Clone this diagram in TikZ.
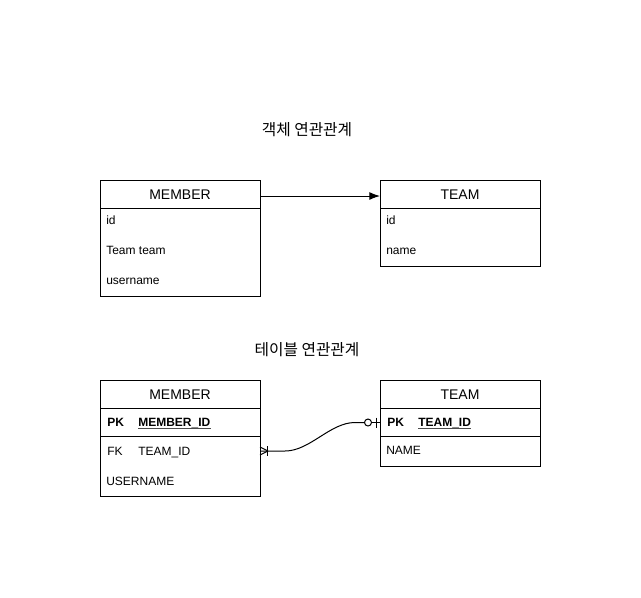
\documentclass[tikz,border=0pt]{standalone}
\usepackage{fontspec}
\setmainfont{Liberation Sans}
\newfontfamily\krfont{Noto Sans CJK KR}
\usetikzlibrary{arrows.meta,calc}
\begin{document}
\begin{tikzpicture}[x=0.75pt,y=-0.75pt,
  tbl/.style={draw=black,line width=0.75pt,minimum width=120pt,inner sep=0pt,outer sep=0pt},
  hdr/.style={font=\fontsize{10.5pt}{12pt}\selectfont,inner sep=0pt,text height=7.6pt,text depth=0pt},
  fld/.style={font=\fontsize{9pt}{11pt}\selectfont,anchor=west,inner sep=0pt,text height=6.5pt,text depth=0pt},
  bfld/.style={fld,font=\bfseries\fontsize{9pt}{11pt}\selectfont},
  rowbox/.style={minimum width=120pt,minimum height=21pt,inner sep=0pt,outer sep=0pt},
  ttl/.style={font=\krfont\fontsize{11.8pt}{13pt}\selectfont,inner sep=0pt},
  ln/.style={line width=0.75pt,black}]
\useasboundingbox (0,0) rectangle (641,597);
% titles
\node[ttl] (t1) at (307,130) {객체 연관관계};
\node[ttl] (t2) at (307,350) {테이블 연관관계};
% top MEMBER
\node[tbl,minimum height=87pt] (m1) at (180,238) {};
\node[rowbox] (m1h) at (180,194) {};
\draw[ln] (m1.west |- 0,208) -- (m1.east |- 0,208);
\node[hdr] (m1ht) at (180,194) {MEMBER};
\node[fld] (m1a) at (106,220) {id};
\node[fld] (m1b) at (106,250) {Team team};
\node[fld] (m1c) at (106,280) {username};
% top TEAM
\node[tbl,minimum height=64.5pt] (t1b) at (460,223) {};
\node[rowbox] (t1h) at (460,194) {};
\draw[ln] (t1b.west |- 0,208) -- (t1b.east |- 0,208);
\node[hdr] (t1ht) at (460,194) {TEAM};
\node[fld] (t1a) at (386,220) {id};
\node[fld] (t1c) at (386,250) {name};
% arrow
\draw[ln,-{Latex[length=8pt,width=6pt]}] ([yshift=-1.5pt]m1h.east) -- ([yshift=-1.5pt]t1h.west);
% bottom MEMBER
\node[tbl,minimum height=87pt] (m2) at (180,438) {};
\draw[ln] (m2.west |- 0,408) -- (m2.east |- 0,408);
\draw[ln] (m2.west |- 0,436) -- (m2.east |- 0,436);
\node[hdr] (m2ht) at (180,394) {MEMBER};
\node[bfld] (m2pk) at (107,422) {PK};
\node[bfld] (m2pkn) at (138,422) {MEMBER\_ID};
\draw[black!70,line width=0.6pt] ([yshift=-1.6pt]m2pkn.south west) -- ([yshift=-1.6pt]m2pkn.south east);
\node[fld] (m2fk) at (107,451) {FK};
\node[fld] (m2fkn) at (138,451) {TEAM\_ID};
\node[fld] (m2u) at (106,481) {USERNAME};
\node[rowbox,minimum height=22.5pt] (m2fkrow) at (180,451) {};
% bottom TEAM
\node[tbl,minimum height=64.5pt] (t2) at (460,423) {};
\draw[ln] (t2.west |- 0,408) -- (t2.east |- 0,408);
\draw[ln] (t2.west |- 0,436) -- (t2.east |- 0,436);
\node[hdr] (t2ht) at (460,394) {TEAM};
\node[bfld] (t2pk) at (387,422) {PK};
\node[bfld] (t2pkn) at (418,422) {TEAM\_ID};
\draw[black!70,line width=0.6pt] ([yshift=-1.6pt]t2pkn.south west) -- ([yshift=-1.6pt]t2pkn.south east);
\node[fld] (t2n) at (386,450) {NAME};
\node[rowbox] (t2pkrow) at (460,422.5) {};
% relation connector
\coordinate (a) at (m2fkrow.east);
\coordinate (b) at (t2pkrow.west);
\draw[ln] (a) -- ($(a)+(25,0)$) .. controls ($(a)+(50,0)$) and ($(b)+(-50,0)$) .. ($(b)+(-25,0)$) -- ($(b)+(-15,0)$);
\draw[ln] ($(b)+(-9,0)$) -- (b);
% crow foot (one-to-many) at member end
\draw[ln] ($(a)+(8,0)$) -- ($(a)+(0,-4)$);
\draw[ln] ($(a)+(8,0)$) -- ($(a)+(0,4)$);
\draw[ln] ($(a)+(7,-5)$) -- ($(a)+(7,5)$);
% zero-or-one at team end
\draw[ln,fill=white] ($(b)+(-12,0)$) circle (3.5);
\draw[ln] ($(b)+(-4,-5)$) -- ($(b)+(-4,5)$);
\end{tikzpicture}
\end{document}
